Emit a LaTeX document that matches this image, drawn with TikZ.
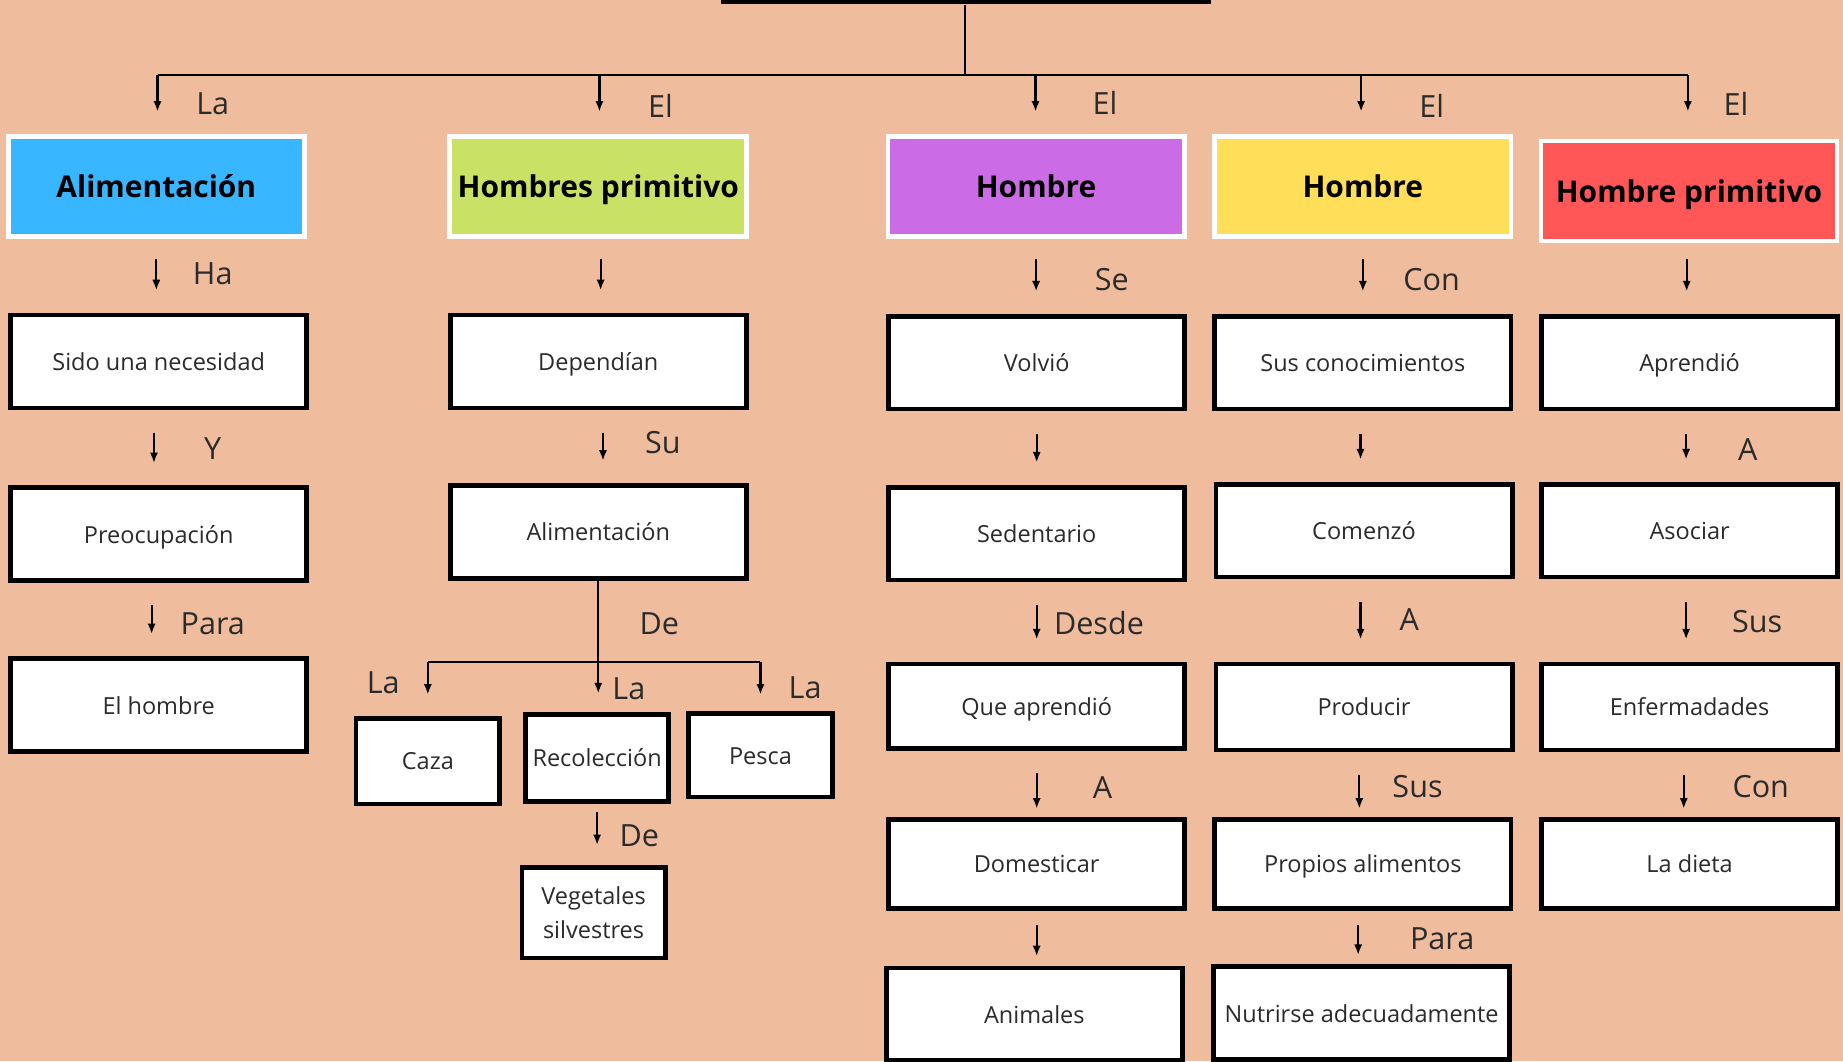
\documentclass[tikz,border=0pt]{standalone}
\usepackage{fontspec}
\setmainfont{Open Sans}
\usepackage{tikz}
\usetikzlibrary{arrows.meta, calc}
\definecolor{fondo}{HTML}{EFBD9E}
\definecolor{azul}{HTML}{38B6FF}
\definecolor{verde}{HTML}{C9E265}
\definecolor{morado}{HTML}{CB6CE6}
\definecolor{amarillo}{HTML}{FFDE59}
\definecolor{rojo}{HTML}{FF5757}
\definecolor{texto}{HTML}{2B2B2B}
\tikzstyle{caja} = [
    rectangle,
    draw = black,
    fill = white,
    line width = 2pt,
    minimum width = 126pt,
    minimum height = 39.5pt,
    inner sep = 2pt,
    text height = 0.97em,
    text depth = 0.22em,
    text = texto,
    align = center,
    font = \fontsize{10}{12}\selectfont,
]
\tikzstyle{cajita} = [caja, minimum width = 61pt, minimum height = 37pt]
\tikzstyle{cabecera} = [
    rectangle,
    draw = white,
    line width = 2pt,
    minimum width = 126pt,
    minimum height = 42.5pt,
    text height = 1.16em,
    text depth = 0.22em,
    text = black,
    font = \fontsize{12.75}{15}\selectfont\bfseries,
]
\tikzstyle{etiqueta} = [
    inner sep = 0pt,
    text height = 0.92em,
    text depth = 0pt,
    text = texto,
    font = \fontsize{13}{15}\selectfont,
]
\tikzstyle{flecha} = [
    -{Latex[length = 4.5pt, width = 3.5pt]},
    line width = 0.9pt,
    shorten <= 9.5pt,
    shorten >= 9.5pt,
]
\tikzstyle{rama} = [line width = 0.9pt]

\begin{document}
\begin{tikzpicture} [x = 0.5pt, y = -0.5pt]
    \useasboundingbox (0, 0) rectangle (1568, 903);
    \clip (0, 0) rectangle (1568, 903);
    \fill[fondo] (0, 0) rectangle (1568, 903);

    \node (Titulo) [rectangle, fill = black, minimum width = 208.5pt, minimum height = 20pt, inner sep = 0pt, anchor = south] at (821.5, 4) {};

    \coordinate (Tronco) at (821, 64);
    \coordinate (Rama1) at (134, 64);
    \coordinate (Rama2) at (510, 64);
    \coordinate (Rama3) at (881, 64);
    \coordinate (Rama4) at (1158, 64);
    \coordinate (Rama5) at (1436, 64);

    \draw[rama] (Titulo.south -| Tronco) -- (Tronco);
    \draw[rama] (Rama1) -- (Rama5);

    \node (Alimentacion) [cabecera, fill = azul] at (133, 158.5) {Alimentación};
    \node (HombresPrimitivo) [cabecera, fill = verde] at (509, 158.5) {Hombres primitivo};
    \node (HombreSe) [cabecera, fill = morado] at (881.5, 158.5) {Hombre};
    \node (HombreCon) [cabecera, fill = amarillo] at (1159.5, 158.5) {Hombre};
    \node (HombrePrimitivo) [cabecera, fill = rojo] at (1437, 162.5) {Hombre primitivo};

    \draw[flecha, shorten <= 0pt] (Rama1) -- (Rama1 |- Alimentacion.north);
    \draw[flecha, shorten <= 0pt] (Rama2) -- (Rama2 |- HombresPrimitivo.north);
    \draw[flecha, shorten <= 0pt] (Rama3) -- (Rama3 |- HombreSe.north);
    \draw[flecha, shorten <= 0pt] (Rama4) -- (Rama4 |- HombreCon.north);
    \draw[flecha, shorten <= 0pt, shorten >= 11.5pt] (Rama5) -- (Rama5 |- HombrePrimitivo.north);

    \node (EtiqLa) [etiqueta] at (181, 88) {La};
    \node (EtiqEl1) [etiqueta] at (562, 91) {El};
    \node (EtiqEl2) [etiqueta] at (940, 88) {El};
    \node (EtiqEl3) [etiqueta] at (1218, 91) {El};
    \node (EtiqEl4) [etiqueta] at (1477, 89) {El};

    \node (Necesidad) [caja] at (135, 307.5) {Sido una necesidad};
    \node (Preocupacion) [caja] at (135, 454.5) {Preocupación};
    \node (ElHombre) [caja] at (135, 600) {El hombre};

    \draw[flecha, shorten <= 8.5pt] (Alimentacion.south) -- (Alimentacion.south |- Necesidad.north);
    \draw[flecha] ([xshift = -2pt]Necesidad.south) -- ([xshift = -2pt]Necesidad.south |- Preocupacion.north);
    \draw[flecha] ([xshift = -3pt]Preocupacion.south) -- ([xshift = -3pt]Preocupacion.south |- ElHombre.north);

    \node (EtiqHa) [etiqueta] at (181, 233) {Ha};
    \node (EtiqY) [etiqueta] at (181, 382) {Y};
    \node (EtiqPara1) [etiqueta] at (181, 531) {Para};

    \node (Dependian) [caja] at (509, 307.5) {Dependían};
    \node (SuAlimentacion) [caja] at (509, 452.5) {Alimentación};
    \node (Caza) [cajita, minimum height = 36.5pt] at (364, 647.5) {Caza};
    \node (Recoleccion) [cajita] at (508, 645) {Recolección};
    \node (Pesca) [cajita, minimum height = 35.5pt] at (647, 642.5) {Pesca};
    \node (Vegetales) [cajita, minimum height = 38.5pt, text height = {}, text depth = {}, font = \fontsize{10}{14.5}\selectfont] at (505, 776.5) {Vegetales\\silvestres};

    \coordinate (Cruce) at (509, 563);

    \draw[flecha, shorten <= 8.5pt] ([xshift = 1pt]HombresPrimitivo.south) -- ([xshift = 1pt]HombresPrimitivo.south |- Dependian.north);
    \draw[flecha] ([xshift = 2pt]Dependian.south) -- ([xshift = 2pt]Dependian.south |- SuAlimentacion.north);
    \draw[flecha, shorten <= 0pt, shorten >= 8pt] (SuAlimentacion.south) -- (SuAlimentacion.south |- Recoleccion.north);
    \draw[rama] (Caza.north |- Cruce) -- (Pesca.north |- Cruce);
    \draw[flecha, shorten <= 0pt, shorten >= 9pt] (Caza.north |- Cruce) -- (Caza.north);
    \draw[flecha, shorten <= 0pt, shorten >= 7pt] (Pesca.north |- Cruce) -- (Pesca.north);
    \draw[flecha, shorten <= 3.5pt, shorten >= 8.5pt] (Recoleccion.south) -- (Recoleccion.south |- Vegetales.north);

    \node (EtiqSu) [etiqueta] at (564, 377) {Su};
    \node (EtiqDe1) [etiqueta] at (561, 531) {De};
    \node (EtiqLaCaza) [etiqueta] at (326, 581) {La};
    \node (EtiqLaRecol) [etiqueta] at (535, 586) {La};
    \node (EtiqLaPesca) [etiqueta] at (685, 585) {La};
    \node (EtiqDe2) [etiqueta] at (544, 711) {De};

    \node (Volvio) [caja] at (882, 308.5) {Volvió};
    \node (Sedentario) [caja] at (882, 454) {Sedentario};
    \node (QueAprendio) [caja, minimum height = 36pt] at (882, 601) {Que aprendió};
    \node (Domesticar) [caja, minimum height = 38pt] at (882, 735) {Domesticar};
    \node (Animales) [caja] at (880, 863) {Animales};

    \draw[flecha, shorten <= 8.5pt] (HombreSe.south) -- (HombreSe.south |- Volvio.north);
    \draw[flecha] (Volvio.south) -- (Volvio.south |- Sedentario.north);
    \draw[flecha] (Sedentario.south) -- (Sedentario.south |- QueAprendio.north);
    \draw[flecha, shorten >= 3.5pt] (QueAprendio.south) -- (QueAprendio.south |- Domesticar.north);
    \draw[flecha, shorten <= 6pt, shorten >= 4pt] (Domesticar.south) -- (Domesticar.south |- Animales.north);

    \node (EtiqSe) [etiqueta] at (946, 238) {Se};
    \node (EtiqDesde) [etiqueta] at (935, 531) {Desde};
    \node (EtiqA1) [etiqueta] at (938, 670) {A};

    \node (SusConocimientos) [caja] at (1159.5, 308.5) {Sus conocimientos};
    \node (Comenzo) [caja] at (1160.5, 451.5) {Comenzó};
    \node (Producir) [caja, minimum height = 36.5pt] at (1160.5, 601.5) {Producir};
    \node (PropiosAlimentos) [caja, minimum height = 38pt] at (1159.5, 735) {Propios alimentos};
    \node (Nutrirse) [caja] at (1158.5, 862) {Nutrirse adecuadamente};

    \draw[flecha, shorten <= 8.5pt] (HombreCon.south) -- (HombreCon.south |- SusConocimientos.north);
    \draw[flecha] ([xshift = -1pt]SusConocimientos.south) -- ([xshift = -1pt]SusConocimientos.south |- Comenzo.north);
    \draw[flecha] ([xshift = -1.5pt]Comenzo.south) -- ([xshift = -1.5pt]Comenzo.south |- Producir.north);
    \draw[flecha, shorten >= 3.5pt] ([xshift = -2pt]Producir.south) -- ([xshift = -2pt]Producir.south |- PropiosAlimentos.north);
    \draw[flecha, shorten <= 6pt, shorten >= 4pt] ([xshift = -2pt]PropiosAlimentos.south) -- ([xshift = -2pt]PropiosAlimentos.south |- Nutrirse.north);

    \node (EtiqCon1) [etiqueta] at (1218, 238) {Con};
    \node (EtiqA2) [etiqueta] at (1199, 527) {A};
    \node (EtiqSus1) [etiqueta] at (1206, 669) {Sus};
    \node (EtiqPara2) [etiqueta] at (1227, 799) {Para};

    \node (Aprendio) [caja] at (1437.5, 308.5) {Aprendió};
    \node (Asociar) [caja] at (1437.5, 451.5) {Asociar};
    \node (Enfermadades) [caja, minimum height = 36.5pt] at (1437.5, 601.5) {Enfermadades};
    \node (LaDieta) [caja, minimum height = 38pt] at (1437.5, 735) {La dieta};

    \draw[flecha, shorten <= 6.5pt] ([xshift = -1pt]HombrePrimitivo.south) -- ([xshift = -1pt]HombrePrimitivo.south |- Aprendio.north);
    \draw[flecha] ([xshift = -1.5pt]Aprendio.south) -- ([xshift = -1.5pt]Aprendio.south |- Asociar.north);
    \draw[flecha] ([xshift = -1.5pt]Asociar.south) -- ([xshift = -1.5pt]Asociar.south |- Enfermadades.north);
    \draw[flecha, shorten >= 3.5pt] ([xshift = -2.5pt]Enfermadades.south) -- ([xshift = -2.5pt]Enfermadades.south |- LaDieta.north);

    \node (EtiqA3) [etiqueta] at (1487, 383) {A};
    \node (EtiqSus2) [etiqueta] at (1495, 529) {Sus};
    \node (EtiqCon2) [etiqueta] at (1498, 669) {Con};
\end{tikzpicture}
\end{document}
